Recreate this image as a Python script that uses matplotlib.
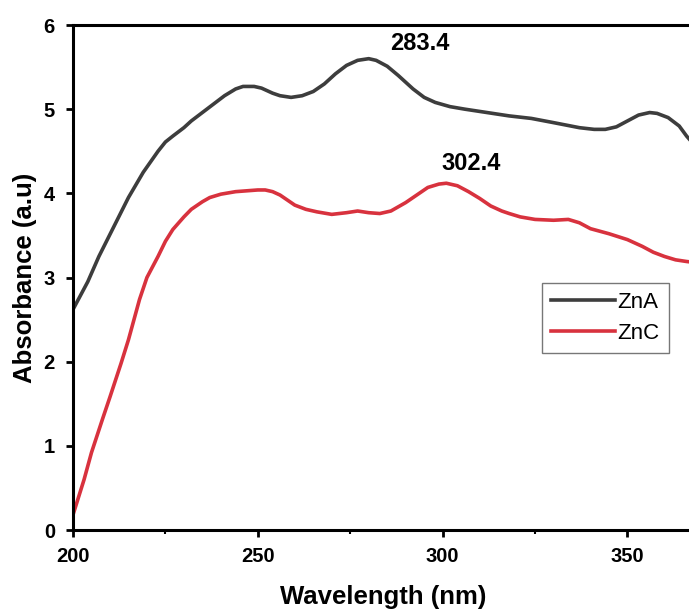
import matplotlib
matplotlib.use("Agg")
import matplotlib.pyplot as plt
from matplotlib.ticker import MultipleLocator

# ZnA (dark grey) spectrum
zna_wl = [200, 204, 207, 211, 215, 219, 223, 225, 227, 230, 232, 235, 238, 241, 244, 246, 249,
          251, 254, 256, 259, 262, 265, 268, 271, 274, 277, 280, 282, 285, 288, 292, 295, 298,
          302, 306, 312, 318, 324, 330, 337, 341, 344, 347, 350, 353, 356, 358, 361, 364, 366, 368]
zna_abs = [2.62, 2.95, 3.25, 3.60, 3.95, 4.25, 4.50, 4.61, 4.68, 4.78, 4.86, 4.96, 5.06, 5.16,
           5.24, 5.27, 5.27, 5.25, 5.19, 5.16, 5.14, 5.16, 5.21, 5.30, 5.42, 5.52, 5.58, 5.60,
           5.58, 5.51, 5.40, 5.24, 5.14, 5.08, 5.03, 5.00, 4.96, 4.92, 4.89, 4.84, 4.78, 4.76,
           4.76, 4.79, 4.86, 4.93, 4.96, 4.95, 4.90, 4.80, 4.68, 4.58]

# ZnC (red) spectrum
znc_wl = [200, 203, 205, 208, 210, 213, 215, 218, 220, 223, 225, 227, 230, 232, 235, 237, 240,
          244, 247, 250, 252, 254, 256, 258, 260, 263, 266, 270, 274, 277, 280, 283, 286, 290,
          293, 296, 299, 301, 304, 307, 310, 313, 316, 318, 321, 325, 330, 334, 337, 340, 345,
          350, 354, 357, 360, 363, 366, 368]
znc_abs = [0.18, 0.60, 0.92, 1.32, 1.58, 1.98, 2.26, 2.74, 3.00, 3.25, 3.43, 3.57, 3.72, 3.81,
           3.90, 3.95, 3.99, 4.02, 4.03, 4.04, 4.04, 4.02, 3.98, 3.92, 3.86, 3.81, 3.78, 3.75,
           3.77, 3.79, 3.77, 3.76, 3.79, 3.89, 3.98, 4.07, 4.11, 4.12, 4.09, 4.02, 3.94, 3.85,
           3.79, 3.76, 3.72, 3.69, 3.68, 3.69, 3.65, 3.58, 3.52, 3.45, 3.37, 3.30, 3.25, 3.21,
           3.19, 3.18]

peak_labels = ["283.4", "302.4"]
peak_pos = [(293.8, 5.78), (307.6, 4.35)]

plt.rcParams['font.family'] = ['Liberation Sans', 'DejaVu Sans']
plt.rcParams['font.weight'] = 'bold'

fig = plt.figure(figsize=(6.89, 6.09), dpi=100)
ax = fig.add_axes([73/689, 1-530/609, (694-73)/689, (530-25)/609])

ax.plot(zna_wl, zna_abs, color='#3d3d3d', lw=2.6, label='ZnA', solid_joinstyle='round')
ax.plot(znc_wl, znc_abs, color='#d8323e', lw=2.6, label='ZnC', solid_joinstyle='round')

for (px, py), txt in zip(peak_pos, peak_labels):
    ax.text(px, py, txt, ha='center', va='center', fontsize=17, fontweight='bold')

ax.set_xlim(200, 368)
ax.set_ylim(0, 6)
ax.xaxis.set_major_locator(MultipleLocator(50))
ax.xaxis.set_minor_locator(MultipleLocator(25))
ax.yaxis.set_major_locator(MultipleLocator(1))
ax.tick_params(axis='both', which='major', direction='out', length=5, width=2, labelsize=14.5)
ax.tick_params(axis='x', which='major', pad=7)
ax.tick_params(axis='y', which='major', pad=8)
ax.tick_params(axis='x', which='minor', direction='out', length=3, width=1.5)
for lab in ax.get_xticklabels() + ax.get_yticklabels():
    lab.set_fontweight('bold')
for s in ax.spines.values():
    s.set_linewidth(2.2)

ax.set_xlabel('Wavelength (nm)', fontsize=18.5, fontweight='bold', labelpad=14)
ax.set_ylabel('Absorbance (a.u)', fontsize=18.5, fontweight='bold', labelpad=5)

leg = ax.legend(loc='upper left', bbox_to_anchor=((542-73)/621, 1-(283-25)/505),
                frameon=True, fancybox=False, edgecolor='#555555', fontsize=16,
                handlelength=2.9, handletextpad=0.1, borderpad=0.4, labelspacing=0.45,
                borderaxespad=0)
leg.get_frame().set_linewidth(1)
for t in leg.get_texts():
    t.set_fontweight('normal')

fig.savefig('out.png', dpi=100)
